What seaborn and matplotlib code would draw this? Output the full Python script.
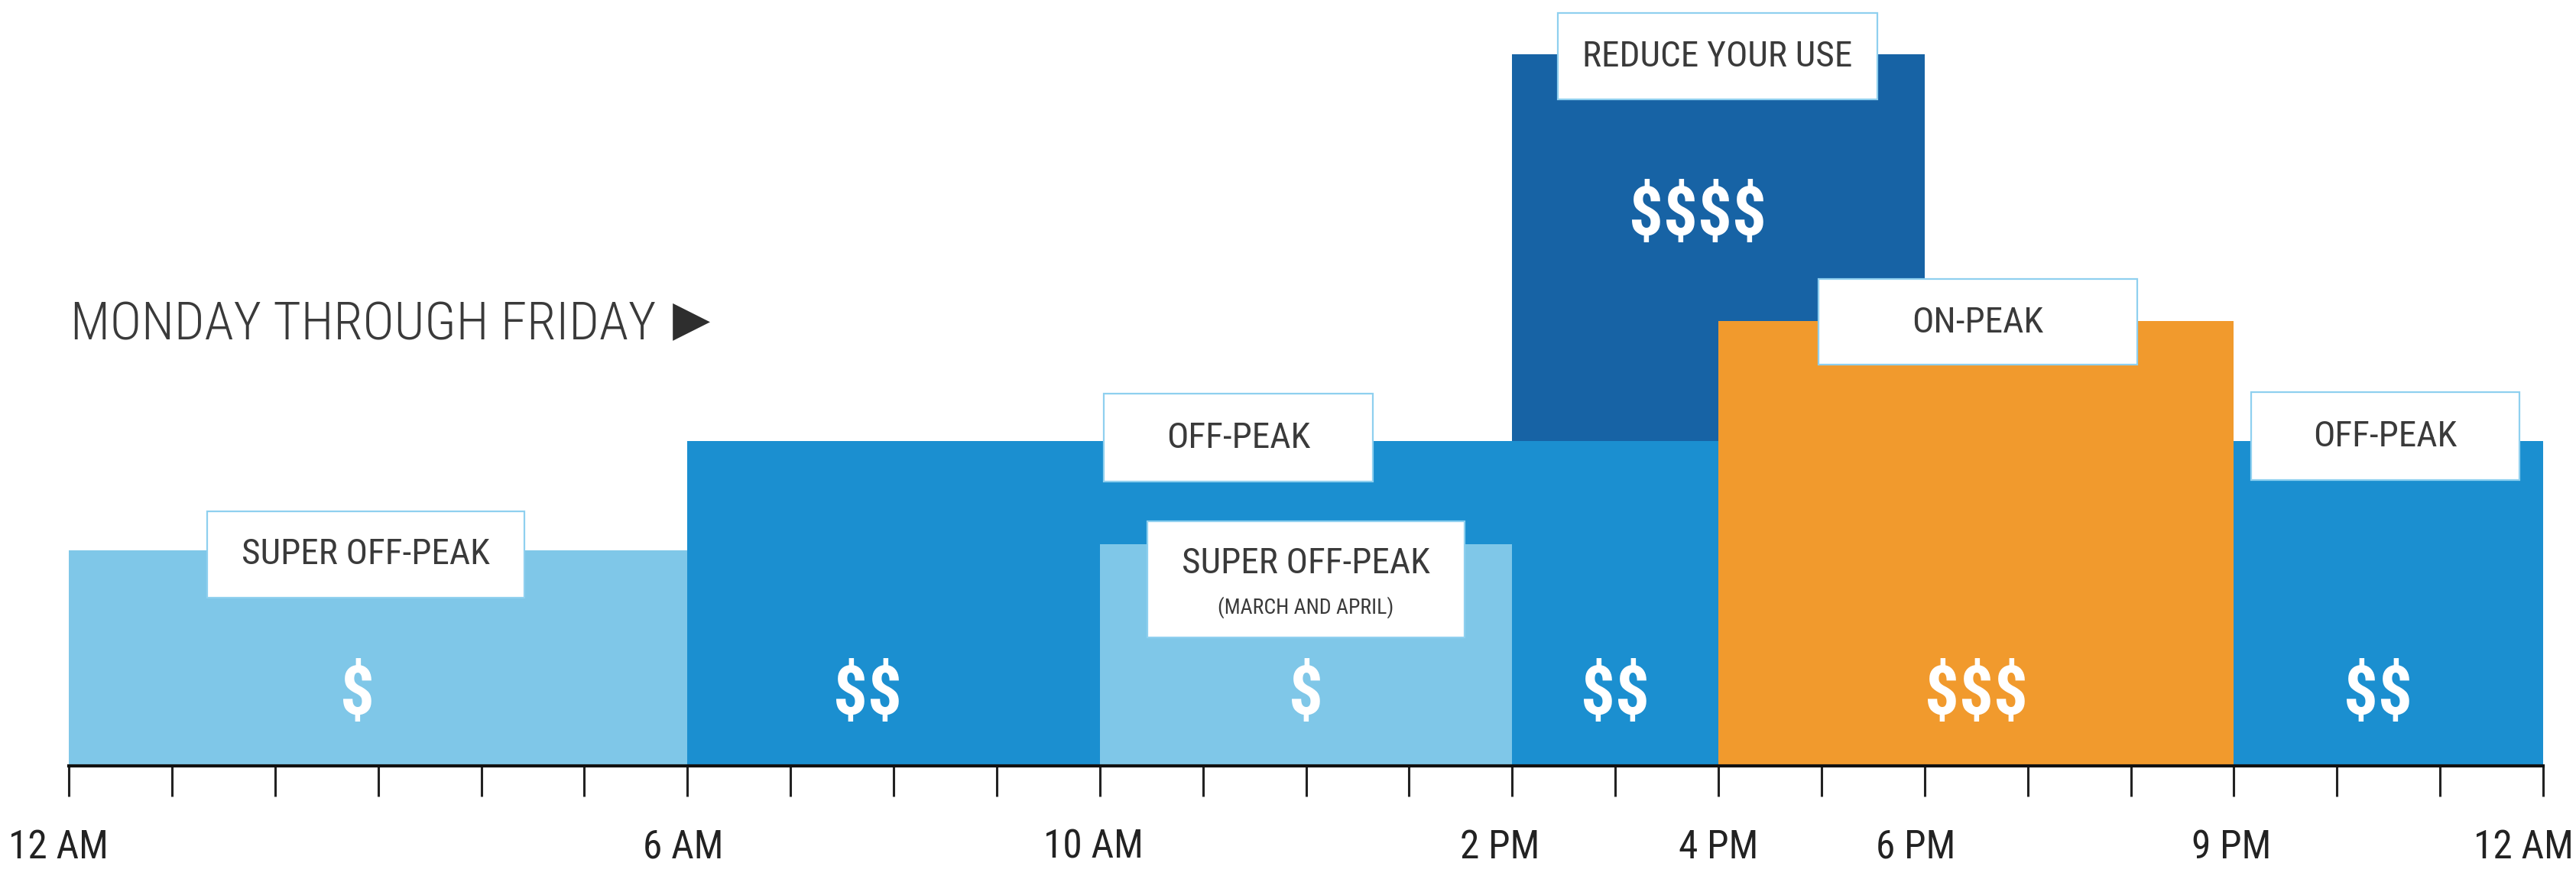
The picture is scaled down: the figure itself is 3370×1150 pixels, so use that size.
import matplotlib
matplotlib.use("Agg")
import matplotlib.pyplot as plt
from matplotlib import font_manager as fm
from matplotlib.patches import Rectangle
from matplotlib.transforms import ScaledTranslation
import seaborn as sns

# ---------------- data ----------------
period_names = ["SUPER OFF-PEAK", "OFF-PEAK", "SUPER OFF-PEAK", "REDUCE YOUR USE", "ON-PEAK", "OFF-PEAK"]
period_notes = ["", "", "(MARCH AND APRIL)", "", "", ""]
period_start = [0, 6, 10, 14, 16, 21]
period_end = [6, 16, 14, 18, 21, 24]
period_level = [282, 425, 290, 931, 582, 425]          # relative price level (bar height)
period_colors = ["#7fc7e8", "#1b8fd0", "#7fc7e8", "#1763a5", "#f19a2d", "#1b8fd0"]
draw_order = [3, 1, 0, 2, 4, 5]

price_text = ["$", "$$", "$", "$$", "$$$$", "$$$", "$$"]
price_hour = [2.8, 7.75, 12.0, 15.0, 15.8, 18.5, 22.4]
price_level = [91, 91, 91, 91, 719, 91, 91]

# label boxes: (x0, x1) hours, (y0, y1) levels, text centre level
box_x0 = [1.34, 10.04, 10.46, 14.44, 16.97, 21.17]
box_x1 = [4.42, 12.65, 13.54, 17.54, 20.06, 23.77]
box_y0 = [220, 372, 168, 872, 525, 374]
box_y1 = [333, 487, 320, 985, 637, 489]
box_text_y = [277, 429, 265, 928, 580, 431]
box_note_y = [0, 0, 207, 0, 0, 0]

tick_hours = [0, 6, 10, 14, 16, 18, 21, 24]
tick_labels = ["12 AM", "6 AM", "10 AM", "2 PM", "4 PM", "6 PM", "9 PM", "12 AM"]
tick_label_shift_px = [-14, -6, -8, -16, 0, -12, -3, -26]
hour_ticks = list(range(25))

title_text = "MONDAY THROUGH FRIDAY"

# ---------------- style ----------------
sns.set_theme(style="white")
avail = {f.name for f in fm.fontManager.ttflist}
cond = next((f for f in ["Roboto Condensed", "Liberation Sans Narrow", "Open Sans Condensed",
                         "DejaVu Sans"] if f in avail), "DejaVu Sans")
stretch = "condensed" if cond == "DejaVu Sans" else "normal"
plt.rcParams["font.family"] = [cond, "DejaVu Sans"]
plt.rcParams["text.parse_math"] = False
TXT = "#3a3a3a"

W, H = 3370, 1150
fig = plt.figure(figsize=(W / 100, H / 100), dpi=100)
fig.patch.set_facecolor("white")
ax = fig.add_axes([90 / W, (H - 1002) / H, 3237 / W, 1002 / H])
ax.set_facecolor("white")

for i in draw_order:
    ax.bar(period_start[i], period_level[i], width=period_end[i] - period_start[i],
           align="edge", color=period_colors[i], edgecolor="none", zorder=2 + draw_order.index(i))

for i in range(len(period_names)):
    ax.add_patch(Rectangle((box_x0[i], box_y0[i]), box_x1[i] - box_x0[i], box_y1[i] - box_y0[i],
                           facecolor="white", edgecolor="#8fd0ef", linewidth=1.6, zorder=20))
    cx = (box_x0[i] + box_x1[i]) / 2
    ax.text(cx, box_text_y[i], period_names[i], ha="center", va="center", fontsize=34,
            color=TXT, fontstretch=stretch, zorder=21)
    if period_notes[i]:
        ax.text(cx, box_note_y[i], period_notes[i], ha="center", va="center", fontsize=20,
                color=TXT, fontstretch=stretch, zorder=21)

for t, x, y in zip(price_text, price_hour, price_level):
    ax.text(x, y, t, ha="center", va="center", fontsize=64, fontweight="bold",
            color="white", fontstretch=stretch, zorder=22, parse_math=False)

ax.set_xlim(0, 24)
ax.set_ylim(0, 1002)
ax.set_yticks([])
ax.set_xticks(hour_ticks, minor=True)
ax.set_xticks(tick_hours)
ax.set_xticklabels(tick_labels, fontsize=37, color="#222222", fontstretch=stretch)
ax.tick_params(axis="x", which="both", direction="out", length=29, width=2.2,
               color="#222222", bottom=True, pad=30)
ax.tick_params(axis="x", which="minor", labelbottom=False)
for lab, dx in zip(ax.get_xticklabels(), tick_label_shift_px):
    lab.set_transform(lab.get_transform() + ScaledTranslation(dx / 100, 0, fig.dpi_scale_trans))
sns.despine(ax=ax, left=True, top=True, right=True)
ax.spines["bottom"].set_color("#111111")
ax.spines["bottom"].set_linewidth(3.0)
ax.spines["bottom"].set_zorder(30)
ax.grid(False)

fig.text(92 / W, 1 - 426 / H, title_text, ha="left", va="center", fontsize=50,
         color=TXT, fontweight="light", fontstretch=stretch)
fig.text(904 / W, 1 - 420 / H, "\u25B6", ha="center", va="center", fontsize=46,
         color="#2e2e2e", family="DejaVu Sans")

fig.savefig("out.png", dpi=100, facecolor="white")
